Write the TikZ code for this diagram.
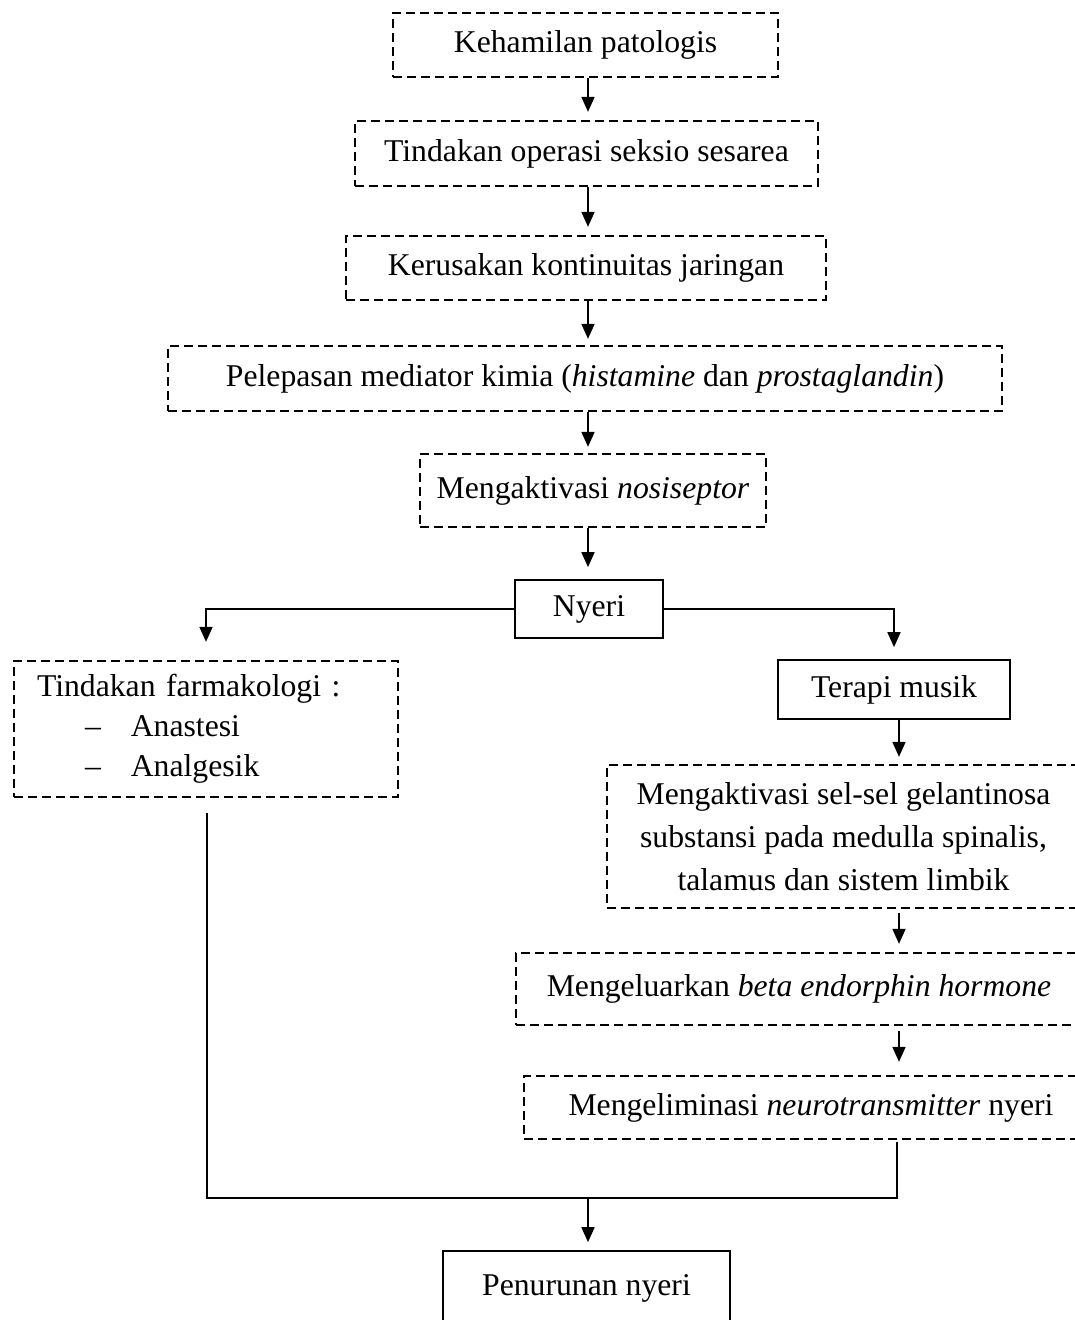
\documentclass[tikz,border=0pt]{standalone}
\usepackage{fontspec}
\setmainfont{Liberation Serif}
\usetikzlibrary{arrows.meta,calc}
\begin{document}
\begin{tikzpicture}[x=1pt,y=-1pt,
  every node/.style={font=\fontsize{31.7}{40}\selectfont, inner sep=0pt},
  dbox/.style={draw, dash pattern=on 9pt off 5pt, line width=2.3pt},
  sbox/.style={draw, line width=1.7pt},
  arr/.style={-{Triangle[length=15pt,width=13pt]}, line width=1.7pt},
  ln/.style={line width=1.7pt}]
\clip (0,0) rectangle (1075,1320);
% top chain
\node[dbox, minimum width=385pt, minimum height=64pt] (b1) at (585.5,45) {Kehamilan patologis};
\node[dbox, minimum width=463pt, minimum height=65pt] (b2) at (586.5,153.5) {Tindakan operasi seksio sesarea};
\node[dbox, minimum width=480pt, minimum height=64pt] (b3) at (586,268) {Kerusakan kontinuitas jaringan};
\node[dbox, minimum width=834pt, minimum height=65pt] (b4) at (585,378.5) {Pelepasan mediator kimia (\textit{histamine} dan \textit{prostaglandin})};
\node[dbox, minimum width=346pt, minimum height=73pt] (b5) at (593,490.5) {Mengaktivasi \textit{nosiseptor}};
\node[sbox, minimum width=148pt, minimum height=58pt] (ny) at (589,609) {Nyeri};
% left branch
\node[dbox, minimum width=384pt, minimum height=136pt, text width=338pt, align=left, inner xsep=23pt] (farm) at (206,729)
  {Tindakan farmakologi :\\
   \hspace*{48pt}–\hspace*{30pt}Anastesi\\
   \hspace*{48pt}–\hspace*{30pt}Analgesik};
% right branch
\node[sbox, minimum width=232pt, minimum height=59pt] (tm) at (894,689.5) {Terapi musik};
\node[dbox, minimum width=473pt, minimum height=143pt, align=center, font=\fontsize{31.7}{43}\selectfont] (sel) at (843.5,836.5)
  {Mengaktivasi sel-sel gelantinosa\\ substansi pada medulla spinalis,\\ talamus dan sistem limbik};
\node[dbox, minimum width=566pt, minimum height=72pt] (beta) at (799,989) {Mengeluarkan \textit{beta endorphin hormone}};
\node[dbox, minimum width=574pt, minimum height=63pt] (elim) at (811,1107.5) {Mengeliminasi \textit{neurotransmitter} nyeri};
% bottom
\node[sbox, minimum width=287pt, minimum height=74pt] (pn) at (586.5,1288) {Penurunan nyeri};
% connectors
\coordinate (ax) at (588,0);
\coordinate (rx) at (899,0);
\draw[arr, shorten >=8pt] (b1.south -| ax) -- (b2.north -| ax);
\draw[arr, shorten >=8pt] (b2.south -| ax) -- (b3.north -| ax);
\draw[arr, shorten >=6pt] (b3.south -| ax) -- (b4.north -| ax);
\draw[arr, shorten >=6pt] (b4.south -| ax) -- (b5.north -| ax);
\draw[arr, shorten >=12pt] (b5.south -| ax) -- (ny.north -| ax);
\draw[arr, shorten >=18pt] (ny.west) -| (farm.north);
\draw[arr, shorten >=12pt] (ny.east) -| (tm.north);
\draw[arr, shorten >=7pt] (tm.south -| rx) -- (sel.north -| rx);
\draw[arr, shorten >=8pt] ($(sel.south -| rx)+(0,4)$) -- (beta.north -| rx);
\draw[arr, shorten >=13pt] ($(beta.south -| rx)+(0,5)$) -- (elim.north -| rx);
\coordinate (jl) at (207,1198);
\coordinate (jr) at (897,1198);
\draw[ln] ($(farm.south)+(1,15)$) -- (jl) -- (jr) -- ($(elim.south -| jr)+(0,2)$);
\draw[arr, shorten >=8pt] (jl -| ax) -- (pn.north -| ax);
\end{tikzpicture}
\end{document}
